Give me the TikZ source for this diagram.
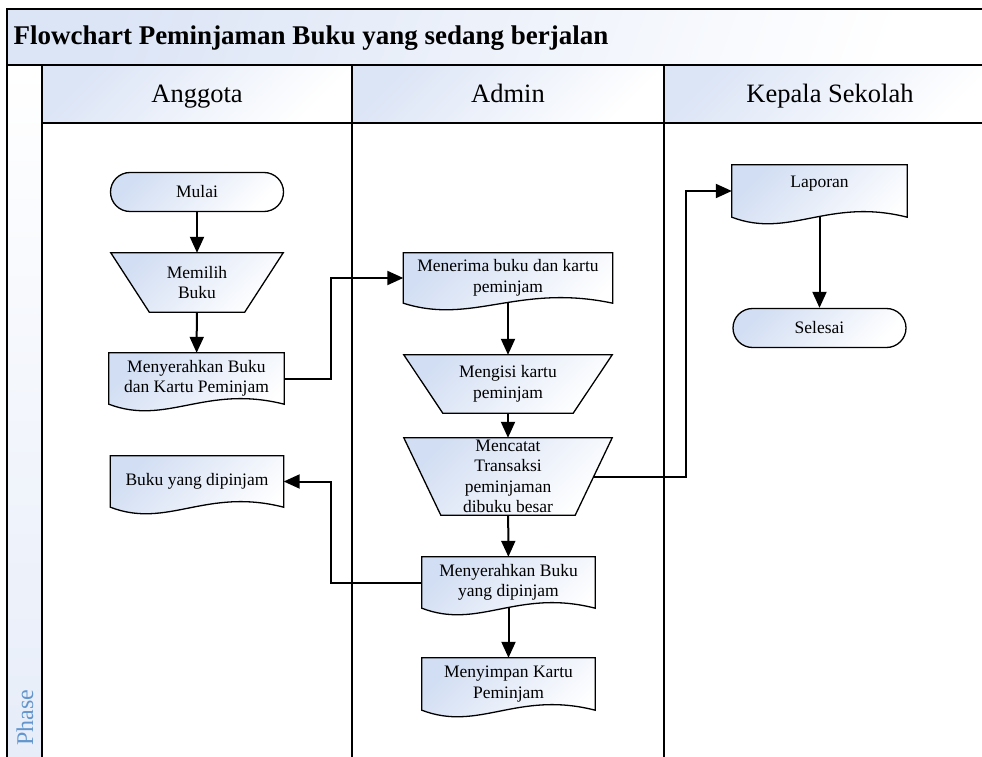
\documentclass[tikz,border=0pt]{standalone}
\usepackage{fontspec}
\setmainfont{Liberation Serif}
\usetikzlibrary{arrows.meta,calc}
\definecolor{docblue}{RGB}{210,222,243}
\definecolor{hdrblue}{RGB}{220,229,246}
\definecolor{phaseblue}{RGB}{100,150,205}
\pgfdeclarelayer{lanes}
\pgfdeclarelayer{shapes}
\pgfsetlayers{lanes,shapes,main}
\newcommand{\nodefont}{\fontsize{17.5}{20.5}\selectfont}
\newcommand{\docframe}[1]{%
  \begin{pgfonlayer}{shapes}
    \path[shapefill] let \p1=($(#1.south east)-(#1.south west)$) in
      (#1.north west) -- (#1.south west)
      .. controls +(0.33*\x1,-22pt) and +(-0.45*\x1,20pt) .. (#1.south east)
      -- (#1.north east) -- cycle;
  \end{pgfonlayer}}
\newcommand{\trapframe}[2]{%
  \begin{pgfonlayer}{shapes}
    \path[shapefill] (#1.north west) -- (#1.north east)
      -- ($(#1.south east)+(-#2,0)$) -- ($(#1.south west)+(#2,0)$) -- cycle;
  \end{pgfonlayer}}

\begin{document}
\begin{tikzpicture}[x=1pt, y=1pt,
            box/.style={rectangle, inner sep=0pt, align=center, font=\nodefont},
            term/.style={box, draw, line width=1.3pt, rounded corners=19.5pt,
                minimum width=173pt, minimum height=39pt,
                top color=docblue, bottom color=white, shading angle=45},
            shapefill/.style={draw, line width=1.3pt, top color=docblue,
                bottom color=white, shading angle=45},
            lane/.style={draw, line width=1.8pt},
            flow/.style={draw, line width=2pt, -{Triangle[length=16pt,width=14pt]}}]
        \clip (0,0) rectangle (982,756);

        \begin{pgfonlayer}{lanes}
            \path[lane, line width=2.2pt, top color=hdrblue, bottom color=white, shading angle=70]
                (7,691) rectangle (995,747);
            \path[lane, top color=white, bottom color=hdrblue!70] (7,-5) rectangle (42,691);
            \foreach \xa/\xb in {42/352, 352/664, 664/995} {
                \path[lane, top color=hdrblue, bottom color=white, shading angle=45]
                    (\xa,633) rectangle (\xb,691);
                \draw[lane] (\xa,633) -- (\xa,-5);
            }
        \end{pgfonlayer}

        \node[anchor=base west, font=\fontsize{27}{30}\selectfont\bfseries] (title) at (10,711)
            {Flowchart Peminjaman Buku yang sedang berjalan};
        \node[anchor=base, font=\fontsize{26.5}{30}\selectfont] (hanggota) at (197,653) {Anggota};
        \node[anchor=base, font=\fontsize{26.5}{30}\selectfont] (hadmin) at (508,653) {Admin};
        \node[anchor=base, font=\fontsize{26.5}{30}\selectfont] (hkepala) at (830,653) {Kepala Sekolah};
        \node[anchor=base west, rotate=90, text=phaseblue, font=\fontsize{24}{26}\selectfont]
            (phase) at (33,7) {Phase};

        \node[term] (mulai) at (197,564) {Mulai};
        \node[box, minimum width=172pt, minimum height=59pt] (memilih) at (197,473.5) {Memilih\\Buku};
        \node[box, minimum width=175pt, minimum height=51pt] (serah1) at (196.5,377.5)
            {Menyerahkan Buku\\dan Kartu Peminjam};
        \node[box, minimum width=173pt, minimum height=51pt] (pinjam) at (197,274.5) {Buku yang dipinjam};
        \node[box, minimum width=209pt, minimum height=50pt] (terima) at (508,478)
            {Menerima buku dan kartu\\peminjam};
        \node[box, minimum width=208pt, minimum height=58pt] (isi) at (508,372) {Mengisi kartu\\peminjam};
        \node[box, minimum width=208pt, minimum height=77pt] (catat) at (508,279.5)
            {Mencatat\\Transaksi\\peminjaman\\dibuku besar};
        \node[box, minimum width=173pt, minimum height=51pt] (serah2) at (508.5,173.5)
            {Menyerahkan Buku\\yang dipinjam};
        \node[box, minimum width=173pt, minimum height=52pt] (simpan) at (508.5,72)
            {Menyimpan Kartu\\Peminjam};
        \node[box, minimum width=175pt, minimum height=52pt] (laporan) at (819.5,565)
            {\raisebox{7pt}[\height][\depth]{Laporan}};
        \node[term] (selesai) at (819.5,428) {Selesai};

        \trapframe{memilih}{38.5}
        \trapframe{isi}{39}
        \trapframe{catat}{37}
        \docframe{serah1}
        \docframe{pinjam}
        \docframe{terima}
        \docframe{serah2}
        \docframe{simpan}
        \docframe{laporan}

        \coordinate (catatR) at ($(catat.east)+(-18.5,0)$);

        \draw[flow] (mulai) -- (memilih);
        \draw[flow] (memilih) -- (serah1);
        \draw[flow] (serah1.east) -- ++(46.5,0) |- (terima.west);
        \draw[flow] (terima) -- (isi);
        \draw[flow] (isi) -- (catat);
        \draw[flow] (catat) -- (serah2);
        \draw[flow] (serah2) -- (simpan);
        \draw[flow] (serah2.west) -- ++(-91,0) |- (pinjam.east);
        \draw[flow] (catatR) -- ++(92,0) |- (laporan.west);
        \draw[flow] (laporan) -- (selesai);
\end{tikzpicture}
\end{document}
